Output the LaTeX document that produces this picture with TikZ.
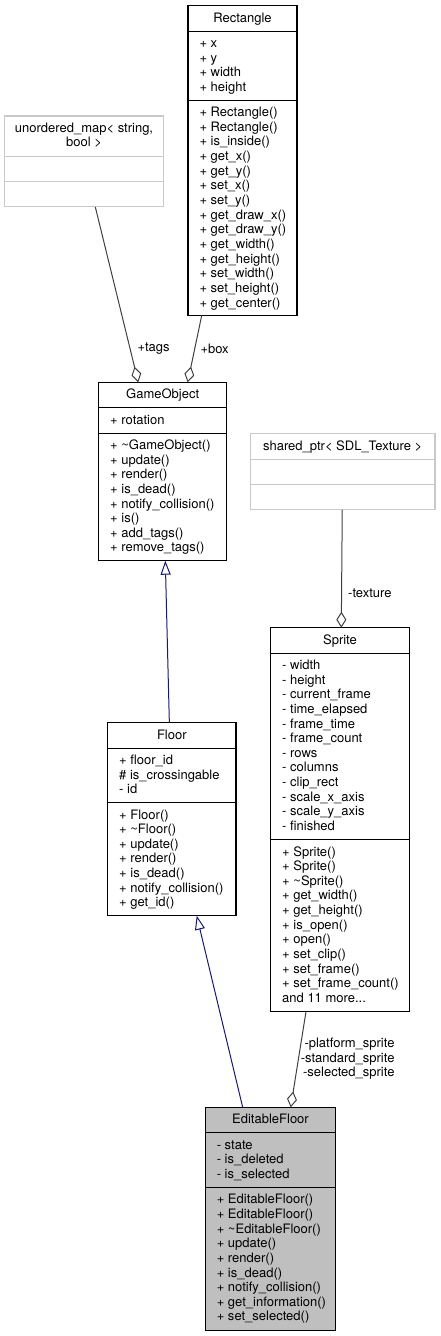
\documentclass[tikz,border=0pt]{standalone}
\usepackage{fontspec}
\setmainfont{TeX Gyre Heros}
\usetikzlibrary{arrows.meta}

\definecolor{edgegray}{HTML}{404040}
\definecolor{inhblue}{HTML}{191970}
\definecolor{boxgray}{HTML}{BFBFBF}

\begin{document}
\begin{tikzpicture}[x=1pt,y=-1pt,line width=1pt,
  cls/.style={draw=black,line width=1.1pt,inner sep=0,outer sep=0,anchor=north west},
  ghost/.style={cls,draw=boxgray!85},
  member/.style={anchor=base west,inner sep=0,font=\fontsize{13}{14.65}\selectfont},
  ctitle/.style={anchor=base,inner sep=0,font=\fontsize{13}{14.65}\selectfont},
  elabel/.style={inner sep=0,font=\fontsize{13}{14.4}\selectfont},
  agg/.style={draw=edgegray,{Diamond[open,length=16pt,width=10pt]}-},
  inh/.style={draw=inhblue,{Triangle[open,length=14pt,width=10pt]}-}]
\useasboundingbox (0,0) rectangle (440,1336);

%% Rectangle
\node[cls,minimum width=109,minimum height=309.8] (Rectangle) at (188,5.7) {};
\node[ctitle] (rect-t) at (242.5,22) {Rectangle};
\draw[line width=1.1pt] (188,31.1)--(297,31.1);
\draw[line width=1.1pt] (188,100.3)--(297,100.3);
\foreach \m [count=\i from 0] in {+ x,+ y,+ width,+ height}
  \node[member] (rect-a\i) at (199,{47.4+\i*14.65}) {\m};
\foreach \m [count=\i from 0] in {+ Rectangle(),+ Rectangle(),+ is\_inside(),+ get\_x(),+ get\_y(),
  + set\_x(),+ set\_y(),+ get\_draw\_x(),+ get\_draw\_y(),+ get\_width(),+ get\_height(),
  + set\_width(),+ set\_height(),+ get\_center()}
  \node[member] (rect-m\i) at (199,{116.6+\i*14.65}) {\m};

%% unordered_map
\node[ghost,minimum width=158.6,minimum height=90.9] (umap) at (4.7,116) {};
\node[ctitle] (umap-t1) at (84,132.3) {unordered\_map< string,};
\node[ctitle] (umap-t2) at (84,146.95) {bool >};
\draw[line width=1.1pt,boxgray!85] (4.7,156.1)--(163.3,156.1);
\draw[line width=1.1pt,boxgray!85] (4.7,181.5)--(163.3,181.5);

%% GameObject
\node[cls,minimum width=128,minimum height=178.4] (GameObject) at (98.7,382.3) {};
\node[ctitle] (go-t) at (162.7,398.6) {GameObject};
\draw[line width=1.1pt] (98.7,407.7)--(226.7,407.7);
\draw[line width=1.1pt] (98.7,433.1)--(226.7,433.1);
\node[member] (go-a0) at (109.7,424) {+ rotation};
\foreach \m [count=\i from 0] in {+ \textasciitilde{}GameObject(),+ update(),+ render(),+ is\_dead(),
  + notify\_collision(),+ is(),+ add\_tags(),+ remove\_tags()}
  \node[member] (go-m\i) at (109.7,{449.4+\i*14.65}) {\m};

%% shared_ptr
\node[ghost,minimum width=184.7,minimum height=76.2] (sptr) at (250.3,433.7) {};
\node[ctitle] (sptr-t) at (342.7,450) {shared\_ptr< SDL\_Texture >};
\draw[line width=1.1pt,boxgray!85] (250.3,459.1)--(435,459.1);
\draw[line width=1.1pt,boxgray!85] (250.3,484.5)--(435,484.5);

%% Sprite
\node[cls,minimum width=138.6,minimum height=383.9] (Sprite) at (270.7,627.7) {};
\node[ctitle] (spr-t) at (340,644) {Sprite};
\draw[line width=1.1pt] (270.7,653.1)--(409.3,653.1);
\draw[line width=1.1pt] (270.7,839.7)--(409.3,839.7);
\foreach \m [count=\i from 0] in {- width,- height,- current\_frame,- time\_elapsed,- frame\_time,
  - frame\_count,- rows,- columns,- clip\_rect,- scale\_x\_axis,- scale\_y\_axis,- finished}
  \node[member] (spr-a\i) at (281.7,{669.4+\i*14.65}) {\m};
\foreach \m [count=\i from 0] in {+ Sprite(),+ Sprite(),+ \textasciitilde{}Sprite(),+ get\_width(),
  + get\_height(),+ is\_open(),+ open(),+ set\_clip(),+ set\_frame(),+ set\_frame\_count(),
  {and 11 more.\kern0pt.\kern0pt.}}
  \node[member] (spr-m\i) at (281.7,{856+\i*14.65}) {\m};

%% Floor
\node[cls,minimum width=128.3,minimum height=193] (Floor) at (107.7,722.7) {};
\node[ctitle] (fl-t) at (171.85,739) {Floor};
\draw[line width=1.1pt] (107.7,748.1)--(236,748.1);
\draw[line width=1.1pt] (107.7,802.7)--(236,802.7);
\foreach \m [count=\i from 0] in {+ floor\_id,\# is\_crossingable,- id}
  \node[member] (fl-a\i) at (118.7,{764.4+\i*14.65}) {\m};
\foreach \m [count=\i from 0] in {+ Floor(),+ \textasciitilde{}Floor(),+ update(),+ render(),+ is\_dead(),
  + notify\_collision(),+ get\_id()}
  \node[member] (fl-m\i) at (118.7,{819+\i*14.65}) {\m};

%% EditableFloor
\node[cls,fill=boxgray,minimum width=130.4,minimum height=222.8] (EditableFloor) at (205.3,1107.3) {};
\node[ctitle] (ef-t) at (270.5,1123.6) {EditableFloor};
\draw[line width=1.1pt] (205.3,1132.7)--(335.7,1132.7);
\draw[line width=1.1pt] (205.3,1187.45)--(335.7,1187.45);
\foreach \m [count=\i from 0] in {- state,- is\_deleted,- is\_selected}
  \node[member] (ef-a\i) at (216.3,{1149+\i*14.65}) {\m};
\foreach \m [count=\i from 0] in {+ EditableFloor(),+ EditableFloor(),+ \textasciitilde{}EditableFloor(),
  + update(),+ render(),+ is\_dead(),+ notify\_collision(),+ get\_information(),+ set\_selected()}
  \node[member] (ef-m\i) at (216.3,{1203.75+\i*14.65}) {\m};

%% aggregations
\draw[agg] ([xshift=-24.4pt]GameObject.north)--([xshift=11.3pt]umap.south);
\node[elabel,anchor=west] (tags) at (137,349) {+tags};
\draw[agg] ([xshift=25pt]GameObject.north)--([xshift=-40.8pt]Rectangle.south);
\node[elabel,anchor=west] (box) at (200,349) {+box};
\draw[agg] ([xshift=1.3pt]Sprite.north)--([xshift=-0.4pt]sptr.south);
\node[elabel,anchor=west] (texture) at (347.7,593.3) {-texture};
\draw[agg] ([xshift=20.2pt]EditableFloor.north)--([xshift=-34pt]Sprite.south);
\node[elabel,anchor=east,align=right] (sprites) at (395,1058.7)
  {-platform\_sprite\\-standard\_sprite\\-selected\_sprite};

%% inheritance
\draw[inh] ([xshift=2.6pt]GameObject.south)--([xshift=-2.5pt]Floor.north);
\draw[inh] ([xshift=24.85pt]Floor.south)--([xshift=-27.8pt]EditableFloor.north);

\end{tikzpicture}
\end{document}
